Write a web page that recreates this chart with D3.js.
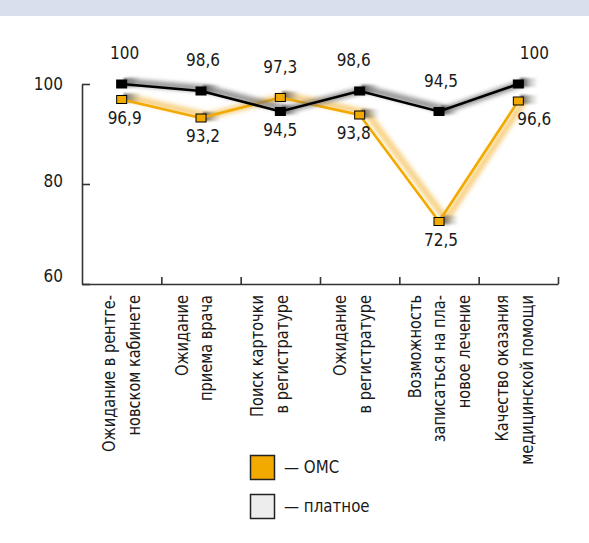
<!DOCTYPE html>
<html>
<head>
<meta charset="utf-8">
<script src="https://cdn.jsdelivr.net/npm/d3@7"></script>
<style>
  html, body { margin: 0; padding: 0; background: #fff; }
  svg { display: block; }
  text { font-family: "Liberation Sans Narrow", "DejaVu Sans Condensed", "Roboto", sans-serif; fill: #1a1a1a; }
</style>
</head>
<body>
<svg id="chart" width="589" height="543"></svg>
<script>
// Survey categories (each label split into its printed lines)
const categories = [
  ["Ожидание в рентге-", "новском кабинете"],
  ["Ожидание", "приема врача"],
  ["Поиск карточки", "в регистратуре"],
  ["Ожидание", "в регистратуре"],
  ["Возможность", "записаться на пла-", "новое лечение"],
  ["Качество оказания", "медицинской помощи"]
];
const omsValues  = [96.9, 93.2, 97.3, 93.8, 72.5, 96.6];
const paidValues = [100, 98.6, 94.5, 98.6, 94.5, 100];
const yTicks = [60, 80, 100];
const seriesNames = ["ОМС", "платное"];

// which side of the point each value label sits on (1 = above, -1 = below)
const omsLabelSide  = [-1, -1, 1, -1, -1, -1];
const paidLabelSide = [1, 1, -1, 1, 1, 1];
const labelNudgeX   = [3, 2, 0, -6, 2, 16];
const catNudge      = [0, -7, -11, -7, 0, -4];

const ORANGE = "#f2a900";
const svg = d3.select("#chart");
const fmt = v => String(v).replace(".", ",");

// header band
svg.append("rect").attr("x", 0).attr("y", 0).attr("width", 589).attr("height", 16).attr("fill", "#d9dfec");

const plotL = 82, plotR = 558, plotT = 84, plotB = 284;
const x = d3.scaleBand().domain(d3.range(categories.length)).range([plotL, plotR]);
const xEdge = d3.scaleLinear().domain([0, categories.length]).range([plotL, plotR]);
const y = d3.scaleLinear().domain([60, 100]).range([plotB, plotT]);
const cx = i => x(i) + x.bandwidth() / 2;

const defs = svg.append("defs");
const blur = defs.append("filter").attr("id", "soft").attr("x", "-20%").attr("y", "-40%").attr("width", "140%").attr("height", "180%");
blur.append("feGaussianBlur").attr("stdDeviation", 2.2);
const blurS = defs.append("filter").attr("id", "softS").attr("x", "-50%").attr("y", "-50%").attr("width", "200%").attr("height", "200%");
blurS.append("feGaussianBlur").attr("stdDeviation", 1.2);
const fade = defs.append("linearGradient").attr("id", "fadeRight");
fade.append("stop").attr("offset", "0%").attr("stop-color", "#444").attr("stop-opacity", 0.9);
fade.append("stop").attr("offset", "100%").attr("stop-color", "#999").attr("stop-opacity", 0);

// axes
const yAxis = d3.axisLeft(y).tickValues(yTicks).tickSizeInner(-8).tickSizeOuter(0).tickPadding(19).tickFormat(d => d);
const gy = svg.append("g").attr("transform", `translate(${plotL},0)`).call(yAxis);
gy.selectAll("text").style("font-size", "17px").attr("dy", d => d === 60 ? "-0.15em" : d === 80 ? "0.12em" : "0.32em");

const xAxis = d3.axisBottom(xEdge).tickValues(d3.range(1, categories.length + 1)).tickSizeInner(-7).tickSizeOuter(0).tickFormat("");
const gx = svg.append("g").attr("transform", `translate(0,${plotB})`).call(xAxis);
[gy, gx].forEach(g => {
  g.selectAll("path, line").attr("stroke", "#333").attr("stroke-width", 1.6);
});

// category labels, rotated and set slightly narrow
categories.forEach((lines, i) => {
  const n = lines.length;
  lines.forEach((t, j) => {
    const bx = cx(i) + (j - (n - 1) / 2) * 24.5 + 6 + catNudge[i];
    svg.append("text")
      .attr("transform", `translate(${bx},295) rotate(-90) scale(0.9,1)`)
      .attr("text-anchor", "end")
      .style("font-size", "18px")
      .text(t);
  });
});

const line = d3.line().x((d, i) => cx(i)).y(d => y(d));

function drawSeries(values, color, shadowColor, fill) {
  // soft extruded shadow along the line
  svg.append("path").datum(values).attr("d", line)
    .attr("transform", "translate(7,-2)")
    .attr("fill", "none").attr("stroke", shadowColor).attr("stroke-width", 7)
    .attr("stroke-opacity", 0.75).attr("filter", "url(#soft)");
  // marker shadows
  svg.selectAll(null).data(values).enter().append("rect")
    .attr("x", (d, i) => cx(i) + 2).attr("y", d => y(d) - 6)
    .attr("width", 18).attr("height", 9)
    .attr("fill", "url(#fadeRight)").attr("filter", "url(#softS)");
  svg.append("path").datum(values).attr("d", line)
    .attr("fill", "none").attr("stroke", color).attr("stroke-width", 2.6);
  svg.selectAll(null).data(values).enter().append("rect")
    .attr("x", (d, i) => cx(i) - 5).attr("y", d => y(d) - 4)
    .attr("width", 10).attr("height", 8)
    .attr("fill", fill).attr("stroke", "#000").attr("stroke-width", 1);
}

drawSeries(omsValues, ORANGE, "#f6c461", ORANGE);
drawSeries(paidValues, "#000", "#777", "#000");

// value labels
function drawLabels(values, sides) {
  values.forEach((v, i) => {
    svg.append("text")
      .attr("x", cx(i) + labelNudgeX[i])
      .attr("y", sides[i] > 0 ? y(v) - 25 : y(v) + 24)
      .attr("text-anchor", "middle")
      .style("font-size", "17px")
      .text(fmt(v));
  });
}
drawLabels(omsValues, omsLabelSide);
drawLabels(paidValues, paidLabelSide);

// legend
const legend = svg.append("g");
[[ORANGE, 455], ["#ededed", 494]].forEach(([c, ty], k) => {
  legend.append("rect").attr("x", 250.5).attr("y", ty + 0.5).attr("width", 24).attr("height", 24)
    .attr("fill", c).attr("stroke", "#222").attr("stroke-width", 1.5);
  legend.append("text").attr("transform", `translate(284,${ty + 18}) scale(0.93,1)`)
    .style("font-size", "18px")
    .text("— " + seriesNames[k]);
});
</script>
</body>
</html>
